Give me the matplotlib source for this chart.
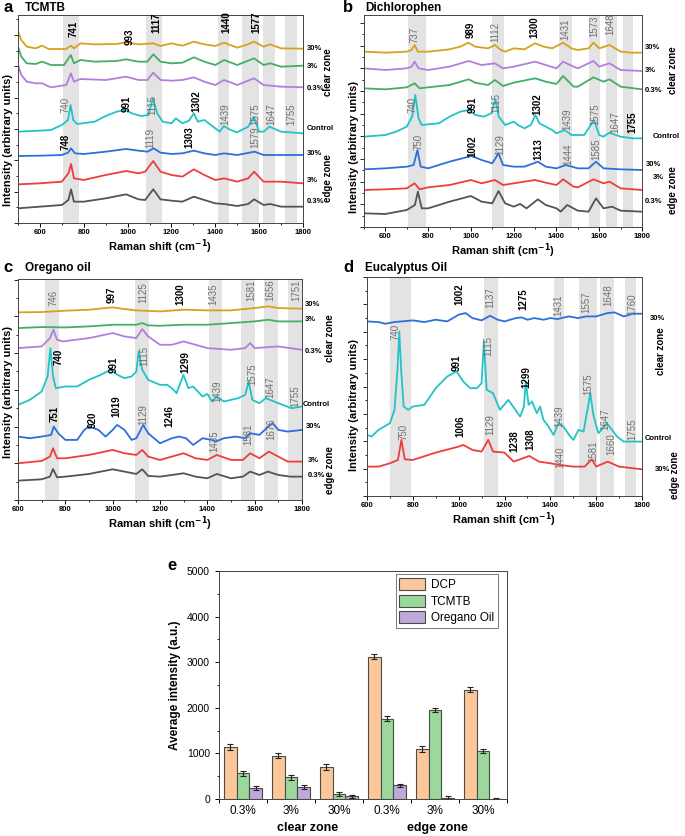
import numpy as np
import matplotlib
matplotlib.use("Agg")
import matplotlib.pyplot as plt
from matplotlib.ticker import MultipleLocator

plt.rcParams['font.family'] = ['Liberation Sans', 'DejaVu Sans']

# ---------------- colours ----------------
GOLD = '#D6A21E'
GREEN = '#43AE66'
PURPLE = '#B27EDD'
CYAN = '#20C4C6'
BLUE = '#2C6FDD'
RED = '#EF3D3D'
GREY = '#545454'
BAND = '#E3E3E3'
DARK = 'black'
LIGHT = '#707070'

# ---------------- panel a: TCMTB (cm-1, intensity a.u.) ----------------
a_clear_30 = [(500, 574), (515, 549), (540, 529), (580, 524), (610, 532), (640, 522), (720, 522),
              (741, 532), (755, 524), (785, 539), (850, 536), (950, 537), (993, 542), (1050, 536),
              (1117, 539), (1150, 531), (1200, 539), (1250, 532), (1302, 544), (1350, 536),
              (1400, 531), (1440, 541), (1500, 526), (1540, 534), (1577, 544), (1620, 529),
              (1650, 536), (1700, 524), (1800, 523)]
a_clear_3 = [(500, 529), (515, 499), (540, 479), (580, 477), (610, 484), (650, 474), (710, 474),
             (741, 504), (755, 479), (785, 489), (850, 484), (950, 486), (993, 491), (1050, 484),
             (1090, 484), (1117, 506), (1150, 484), (1200, 479), (1250, 481), (1302, 497),
             (1350, 484), (1400, 474), (1440, 489), (1500, 474), (1577, 494), (1620, 474),
             (1650, 479), (1700, 469), (1800, 472)]
a_clear_03 = [(500, 474), (515, 444), (540, 424), (580, 419), (610, 419), (650, 407), (720, 414),
              (741, 449), (755, 424), (785, 432), (900, 429), (993, 439), (1050, 429), (1090, 429),
              (1117, 451), (1150, 429), (1200, 427), (1250, 429), (1302, 437), (1350, 424),
              (1400, 414), (1440, 429), (1500, 414), (1577, 434), (1620, 414), (1700, 409),
              (1800, 407)]
a_control = [(500, 274), (600, 277), (650, 279), (700, 294), (728, 309), (740, 354), (752, 309),
             (770, 297), (850, 304), (900, 321), (950, 334), (991, 339), (1020, 329), (1060, 321),
             (1095, 324), (1115, 374), (1135, 329), (1160, 304), (1200, 299), (1220, 314),
             (1250, 299), (1280, 307), (1302, 329), (1320, 304), (1350, 309), (1380, 294),
             (1400, 284), (1420, 274), (1439, 291), (1470, 279), (1500, 272), (1550, 289),
             (1575, 319), (1600, 274), (1620, 274), (1647, 289), (1700, 274), (1800, 269)]
a_edge_30 = [(500, 201), (600, 202), (700, 204), (728, 211), (742, 224), (760, 209), (800, 207),
             (900, 214), (993, 222), (1050, 217), (1090, 214), (1119, 224), (1150, 211),
             (1200, 207), (1250, 209), (1302, 217), (1350, 209), (1400, 204), (1440, 209),
             (1500, 204), (1579, 214), (1620, 204), (1700, 204), (1800, 204)]
a_edge_3 = [(500, 116), (600, 119), (700, 124), (730, 149), (742, 177), (755, 134), (800, 129),
            (900, 144), (993, 156), (1050, 149), (1080, 154), (1117, 186), (1150, 154), (1200, 144),
            (1250, 139), (1302, 161), (1350, 144), (1400, 129), (1440, 134), (1500, 124),
            (1550, 134), (1577, 154), (1620, 124), (1700, 124), (1800, 119)]
a_edge_03 = [(500, 44), (600, 49), (700, 54), (730, 69), (742, 101), (755, 64), (800, 64),
             (900, 74), (993, 86), (1050, 71), (1080, 69), (1117, 101), (1150, 71), (1200, 67),
             (1250, 64), (1302, 79), (1350, 69), (1400, 59), (1440, 57), (1500, 51), (1550, 57),
             (1577, 71), (1620, 54), (1650, 57), (1700, 49), (1800, 49)]
a_bands = [(707, 780), (1082, 1157), (1414, 1464), (1520, 1601), (1619, 1672), (1718, 1771)]
a_peaks = [('741', 752, 559, DARK), ('993', 1011, 534, DARK), ('1117', 1129, 569, DARK),
           ('1440', 1452, 569, DARK), ('1577', 1586, 569, DARK),
           ('740', 717, 329, LIGHT), ('991', 996, 334, DARK), ('1115', 1114, 324, LIGHT),
           ('1302', 1312, 334, DARK), ('1439', 1447, 294, LIGHT), ('1575', 1581, 294, LIGHT),
           ('1647', 1657, 294, LIGHT), ('1755', 1748, 294, LIGHT),
           ('748', 717, 219, DARK), ('1119', 1105, 224, LIGHT), ('1303', 1280, 224, DARK),
           ('1579', 1584, 224, LIGHT)]
a_sides = [('30%', 1.014, 524), ('3%', 1.014, 469), ('0.3%', 1.014, 404), ('Control', 1.014, 284),
           ('30%', 1.014, 209), ('3%', 1.014, 129), ('0.3%', 1.014, 64)]
a_zones = [('clear zone', 1.088, 454), ('edge zone', 1.088, 134)]

# ---------------- panel b: Dichlorophen ----------------
b_clear_30 = [(500, 526), (600, 523), (700, 526), (722, 531), (737, 546), (752, 526), (800, 526),
              (900, 533), (950, 541), (989, 553), (1020, 541), (1080, 536), (1112, 546), (1140, 531),
              (1160, 526), (1200, 536), (1250, 533), (1300, 551), (1340, 541), (1380, 536),
              (1431, 553), (1470, 536), (1500, 531), (1550, 536), (1573, 553), (1600, 536),
              (1648, 546), (1700, 526), (1750, 523), (1800, 523)]
b_clear_3 = [(500, 476), (600, 471), (700, 476), (722, 481), (737, 496), (755, 476), (800, 471),
             (900, 481), (989, 498), (1050, 486), (1112, 491), (1150, 476), (1200, 481), (1300, 496),
             (1350, 486), (1400, 476), (1431, 496), (1480, 481), (1500, 476), (1573, 498),
             (1600, 481), (1648, 491), (1700, 471), (1800, 468)]
b_clear_03 = [(500, 416), (600, 413), (700, 419), (737, 431), (760, 416), (800, 419), (900, 426),
              (989, 443), (1020, 433), (1080, 426), (1112, 441), (1150, 423), (1200, 433),
              (1300, 446), (1350, 436), (1400, 429), (1431, 453), (1480, 421), (1500, 421),
              (1573, 449), (1620, 436), (1648, 443), (1700, 421), (1800, 413)]
b_control = [(500, 271), (600, 276), (650, 286), (700, 301), (725, 331), (740, 396), (755, 326),
             (770, 306), (850, 311), (900, 331), (950, 346), (991, 351), (1020, 336), (1060, 331),
             (1095, 341), (1115, 383), (1130, 331), (1160, 306), (1200, 316), (1220, 306),
             (1250, 296), (1280, 306), (1302, 336), (1320, 311), (1350, 301), (1380, 291),
             (1400, 281), (1439, 291), (1470, 276), (1530, 276), (1575, 321), (1600, 276),
             (1620, 271), (1647, 283), (1700, 271), (1755, 266), (1800, 266)]
b_edge_30 = [(500, 173), (600, 176), (700, 181), (732, 186), (750, 231), (765, 181), (800, 176),
             (900, 196), (1002, 213), (1050, 201), (1100, 191), (1129, 221), (1150, 186),
             (1200, 181), (1250, 181), (1313, 196), (1350, 181), (1400, 176), (1444, 186),
             (1500, 176), (1550, 176), (1585, 196), (1620, 176), (1700, 173), (1800, 171)]
b_edge_3 = [(500, 111), (600, 113), (700, 116), (737, 131), (760, 113), (800, 119), (900, 126),
            (1000, 141), (1050, 131), (1112, 141), (1150, 126), (1200, 131), (1300, 141),
            (1350, 133), (1400, 126), (1431, 143), (1480, 121), (1500, 119), (1573, 143),
            (1620, 131), (1648, 136), (1700, 116), (1800, 111)]
b_edge_03 = [(500, 41), (600, 39), (700, 51), (738, 66), (752, 106), (770, 56), (800, 56),
             (900, 76), (1000, 93), (1050, 76), (1100, 71), (1129, 108), (1160, 71), (1200, 61),
             (1230, 69), (1260, 56), (1313, 83), (1350, 66), (1400, 56), (1420, 46), (1450, 66),
             (1500, 49), (1550, 46), (1585, 86), (1620, 56), (1660, 61), (1700, 49), (1800, 46)]
b_bands = [(704, 790), (1100, 1154), (1414, 1472), (1550, 1604), (1632, 1682), (1713, 1760)]
b_peaks = [('737', 735, 551, LIGHT), ('989', 997, 566, DARK), ('1112', 1114, 556, LIGHT),
           ('1300', 1297, 566, DARK), ('1431', 1440, 561, LIGHT), ('1573', 1576, 571, LIGHT),
           ('1648', 1651, 576, LIGHT),
           ('740', 728, 341, LIGHT), ('991', 1008, 341, DARK), ('1115', 1121, 341, LIGHT),
           ('1302', 1311, 336, DARK), ('1439', 1451, 291, LIGHT), ('1575', 1581, 306, LIGHT),
           ('1647', 1674, 281, LIGHT), ('1755', 1755, 281, DARK),
           ('750', 756, 231, LIGHT), ('1002', 1005, 211, DARK), ('1129', 1137, 216, LIGHT),
           ('1313', 1316, 201, DARK), ('1444', 1456, 186, LIGHT), ('1585', 1588, 201, LIGHT)]
b_sides = [('30%', 1.011, 539), ('3%', 1.011, 469), ('0.3%', 1.011, 411), ('Control', 1.04, 271),
           ('30%', 1.015, 189), ('3%', 1.04, 149), ('0.3%', 1.011, 76)]
b_zones = [('clear zone', 1.11, 471), ('edge zone', 1.11, 111)]

# ---------------- panel c: Oregano oil ----------------
c_clear_30 = [(600, 562), (700, 563), (800, 567), (900, 570), (1000, 577), (1050, 572), (1100, 568),
              (1200, 565), (1300, 570), (1400, 568), (1500, 568), (1600, 575), (1656, 580),
              (1700, 575), (1800, 573)]
c_clear_3 = [(600, 515), (700, 518), (800, 517), (900, 520), (1000, 525), (1100, 525), (1125, 530),
             (1150, 523), (1200, 522), (1300, 525), (1400, 525), (1500, 530), (1600, 535),
             (1656, 540), (1700, 535), (1800, 535)]
c_clear_03 = [(600, 455), (700, 460), (735, 485), (750, 510), (765, 480), (790, 475), (900, 485),
              (1000, 500), (1050, 490), (1100, 485), (1125, 512), (1150, 490), (1200, 465),
              (1250, 465), (1300, 475), (1350, 465), (1400, 455), (1500, 450), (1560, 455),
              (1581, 470), (1600, 455), (1700, 460), (1800, 450)]
c_control = [(600, 285), (650, 300), (700, 325), (725, 370), (737, 455), (748, 370), (760, 335),
             (800, 340), (850, 340), (900, 360), (950, 375), (991, 390), (1020, 375), (1050, 365),
             (1080, 370), (1100, 385), (1110, 445), (1125, 390), (1150, 360), (1200, 345),
             (1230, 345), (1250, 335), (1270, 320), (1299, 375), (1320, 335), (1340, 340),
             (1380, 310), (1400, 318), (1420, 295), (1439, 310), (1470, 295), (1530, 305),
             (1560, 315), (1575, 355), (1590, 300), (1620, 290), (1647, 305), (1700, 290),
             (1755, 275), (1800, 280)]
c_edge_30 = [(600, 190), (650, 185), (700, 190), (740, 195), (751, 220), (770, 200), (800, 180),
             (850, 180), (880, 210), (900, 220), (940, 210), (970, 190), (1000, 210), (1019, 225),
             (1050, 210), (1080, 180), (1100, 185), (1129, 225), (1150, 200), (1200, 170),
             (1250, 185), (1280, 190), (1310, 185), (1340, 165), (1380, 185), (1420, 180),
             (1435, 175), (1470, 185), (1520, 190), (1560, 185), (1581, 200), (1620, 195),
             (1650, 215), (1676, 230), (1700, 210), (1740, 205), (1800, 210)]
c_edge_3 = [(600, 110), (700, 117), (735, 130), (748, 155), (765, 125), (800, 125), (900, 135),
            (1000, 150), (1050, 140), (1100, 135), (1125, 150), (1150, 130), (1200, 120),
            (1250, 130), (1300, 140), (1350, 125), (1400, 120), (1440, 135), (1500, 120),
            (1550, 120), (1581, 140), (1620, 125), (1660, 145), (1700, 130), (1740, 115),
            (1800, 115)]
c_edge_03 = [(600, 58), (700, 62), (735, 70), (748, 93), (765, 68), (800, 70), (900, 78),
             (1000, 92), (1050, 85), (1100, 78), (1125, 92), (1150, 72), (1200, 70), (1250, 75),
             (1300, 80), (1350, 70), (1400, 65), (1440, 78), (1500, 65), (1550, 70), (1581, 85),
             (1620, 75), (1656, 85), (1700, 75), (1750, 70), (1800, 70)]
c_bands = [(713, 772), (1094, 1153), (1407, 1463), (1541, 1601), (1639, 1700), (1742, 1799)]
c_peaks = [('746', 748, 580, LIGHT), ('997', 995, 590, DARK), ('1125', 1129, 590, LIGHT),
           ('1300', 1284, 585, DARK), ('1435', 1425, 585, LIGHT), ('1581', 1587, 595, LIGHT),
           ('1656', 1665, 595, LIGHT), ('1751', 1778, 595, LIGHT),
           ('740', 772, 405, DARK), ('991', 1005, 380, DARK), ('1115', 1132, 400, LIGHT),
           ('1299', 1309, 380, DARK), ('1439', 1442, 295, LIGHT), ('1575', 1592, 345, LIGHT),
           ('1647', 1665, 305, LIGHT), ('1755', 1771, 280, LIGHT),
           ('751', 755, 235, DARK), ('920', 917, 215, DARK), ('1019', 1016, 250, DARK),
           ('1129', 1129, 225, LIGHT), ('1246', 1239, 220, DARK), ('1435', 1429, 145, LIGHT),
           ('1581', 1573, 165, LIGHT), ('1676', 1672, 180, LIGHT)]
c_sides = [('30%', 1.01, 585), ('3%', 1.01, 540), ('0.3%', 1.01, 445), ('Control', 1.004, 285),
           ('30%', 1.015, 220), ('3%', 1.02, 118), ('0.3%', 1.02, 72)]
c_zones = [('clear zone', 1.10, 485), ('edge zone', 1.10, 90)]

# ---------------- panel d: Eucalyptus Oil ----------------
d_clear_30 = [(600, 523), (650, 521), (680, 516), (720, 521), (800, 526), (850, 521), (900, 528),
              (950, 523), (1000, 543), (1030, 548), (1060, 533), (1100, 526), (1137, 540),
              (1170, 528), (1200, 523), (1250, 533), (1275, 535), (1300, 528), (1330, 533),
              (1370, 528), (1400, 533), (1431, 530), (1480, 538), (1520, 533), (1557, 538),
              (1600, 538), (1650, 548), (1680, 550), (1720, 538), (1760, 546), (1800, 546)]
d_control = [(600, 183), (620, 178), (650, 198), (700, 218), (720, 258), (733, 378), (741, 493),
             (749, 378), (760, 268), (780, 258), (800, 268), (850, 273), (900, 323), (950, 358),
             (991, 373), (1020, 343), (1050, 323), (1080, 323), (1100, 338), (1110, 463),
             (1122, 318), (1150, 308), (1180, 258), (1217, 288), (1268, 238), (1285, 268),
             (1293, 343), (1305, 273), (1320, 283), (1341, 248), (1355, 268), (1370, 228),
             (1392, 208), (1414, 183), (1436, 218), (1457, 208), (1487, 178), (1501, 168),
             (1523, 198), (1545, 193), (1567, 278), (1574, 308), (1589, 238), (1610, 188),
             (1647, 218), (1691, 178), (1720, 163), (1800, 163)]
d_edge_30 = [(600, 88), (650, 88), (700, 98), (735, 108), (750, 168), (765, 110), (800, 108),
             (900, 130), (1000, 148), (1020, 153), (1060, 138), (1100, 133), (1129, 168),
             (1150, 133), (1200, 130), (1240, 103), (1280, 113), (1308, 120), (1350, 103),
             (1400, 98), (1440, 93), (1500, 88), (1550, 88), (1581, 110), (1600, 88), (1650, 103),
             (1700, 88), (1800, 80)]
d_bands = [(699, 791), (1110, 1173), (1414, 1460), (1527, 1603), (1615, 1676), (1727, 1774)]
d_peaks = [('1002', 1001, 573, DARK), ('1137', 1140, 563, LIGHT), ('1275', 1282, 558, DARK),
           ('1431', 1436, 538, LIGHT), ('1557', 1557, 548, LIGHT), ('1648', 1654, 568, LIGHT),
           ('1760', 1759, 543, LIGHT),
           ('740', 725, 468, LIGHT), ('991', 991, 373, DARK), ('1115', 1129, 418, LIGHT),
           ('1299', 1294, 323, DARK), ('1439', 1438, 208, LIGHT), ('1575', 1567, 303, LIGHT),
           ('1647', 1640, 198, LIGHT), ('1755', 1756, 168, LIGHT),
           ('750', 760, 168, LIGHT), ('1006', 1008, 178, DARK), ('1129', 1137, 183, LIGHT),
           ('1238', 1242, 133, DARK), ('1308', 1312, 138, DARK), ('1440', 1443, 83, LIGHT),
           ('1581', 1589, 103, LIGHT), ('1660', 1664, 123, LIGHT)]
d_sides = [('30%', 1.03, 533), ('Control', 1.01, 173), ('30%', 1.047, 78)]
d_zones = [('clear zone', 1.07, 433), ('edge zone', 1.12, 63)]

# ---------------- panel e: average intensity ----------------
e_groups = ['0.3%', '3%', '30%', '0.3%', '3%', '30%']
e_dcp = [1150, 950, 695, 3120, 1095, 2395]
e_dcp_err = [65, 60, 65, 55, 62, 58]
e_tcmtb = [565, 475, 112, 1765, 1945, 1050]
e_tcmtb_err = [55, 50, 45, 47, 40, 45]
e_oregano = [248, 262, 58, 300, 25, 8]
e_oregano_err = [45, 38, 35, 35, 30, 12]


def rect(l, t, r, b):
    # pixel box -> figure fraction
    return [l / 685, 1 - b / 836, (r - l) / 685, (b - t) / 836]


def draw_spectra(ax, curves, colors, bands, peaks, sides, zones, xlim, ylim, ystep):
    for lo, hi in bands:
        ax.axvspan(lo, hi, color=BAND, lw=0, zorder=0)
    for pts, col in zip(curves, colors):
        xs, ys = zip(*pts)
        ax.plot(xs, ys, color=col, lw=1.3, zorder=2)
    for txt, x, y, col in peaks:
        ax.text(x, y, txt, rotation=90, ha='center', va='bottom', fontsize=7, color=col,
                fontweight='bold' if col == DARK else 'normal', zorder=3)
    tr = ax.get_yaxis_transform()
    for txt, xf, y in sides:
        ax.text(xf, y, txt, transform=tr, ha='left', va='center', fontsize=5.5,
                fontweight='bold', clip_on=False)
    for txt, xf, y in zones:
        ax.text(xf, y, txt, transform=tr, ha='center', va='center', rotation=90,
                fontsize=7, fontweight='bold', clip_on=False)
    ax.set_xlim(*xlim)
    ax.set_ylim(*ylim)
    ax.xaxis.set_major_locator(MultipleLocator(200))
    ax.xaxis.set_minor_locator(MultipleLocator(100))
    ax.yaxis.set_major_locator(MultipleLocator(ystep * 2))
    ax.yaxis.set_minor_locator(MultipleLocator(ystep))
    ax.tick_params(axis='x', which='major', labelsize=5.5, length=3, width=0.7, pad=1.5)
    ax.tick_params(axis='x', which='minor', length=1.5, width=0.6)
    ax.tick_params(axis='y', which='both', labelleft=False, width=0.6)
    ax.tick_params(axis='y', which='major', length=3)
    ax.tick_params(axis='y', which='minor', length=1.5)
    for lab in ax.get_xticklabels():
        lab.set_fontweight('bold')
    for sp in ax.spines.values():
        sp.set_linewidth(0.7)
        sp.set_color('#444444')
    ax.set_xlabel('Raman shift (cm$^{\\mathbf{-1}}$)', fontsize=8, fontweight='bold', labelpad=1)


fig = plt.figure(figsize=(6.85, 8.36), dpi=100)

six = [GOLD, GREEN, PURPLE, CYAN, BLUE, RED, GREY]

ax_a = fig.add_axes(rect(18, 15, 303, 223))
draw_spectra(ax_a, [a_clear_30, a_clear_3, a_clear_03, a_control, a_edge_30, a_edge_3, a_edge_03],
             six, a_bands, a_peaks, a_sides, a_zones, (500, 1800), (0, 624), 47)

ax_b = fig.add_axes(rect(364, 15, 642, 227))
draw_spectra(ax_b, [b_clear_30, b_clear_3, b_clear_03, b_control, b_edge_30, b_edge_3, b_edge_03],
             [GOLD, PURPLE, GREEN, CYAN, BLUE, RED, GREY], b_bands, b_peaks, b_sides, b_zones,
             (500, 1800), (0, 636), 34)

ax_c = fig.add_axes(rect(18, 279, 302, 500))
draw_spectra(ax_c, [c_clear_30, c_clear_3, c_clear_03, c_control, c_edge_30, c_edge_3, c_edge_03],
             six, c_bands, c_peaks, c_sides, c_zones, (600, 1800), (0, 662), 55)

ax_d = fig.add_axes(rect(367, 277, 642, 496))
draw_spectra(ax_d, [d_clear_30, d_control, d_edge_30], [BLUE, CYAN, RED], d_bands, d_peaks,
             d_sides, d_zones, (600, 1800), (0, 656), 41)

# panel letters, titles, y labels
for letter, title, px, py in [('a', 'TCMTB', 3, 8), ('b', 'Dichlorophen', 343, 8),
                              ('c', 'Oregano oil', 3, 268), ('d', 'Eucalyptus Oil', 343, 268)]:
    fig.text(px / 685, 1 - py / 836, letter, fontsize=12, fontweight='bold', va='center')
    fig.text((px + 22) / 685, 1 - py / 836, title, fontsize=8.5, fontweight='bold', va='center')

for px, py in [(8, 140), (354, 147), (8, 392), (354, 405)]:
    fig.text(px / 685, 1 - py / 836, 'Intensity (arbitrary units)', rotation=90, fontsize=8,
             fontweight='bold', ha='center', va='center')

# ---------------- panel e ----------------
ax_e = fig.add_axes(rect(219, 571, 507, 799))
xc = np.arange(len(e_groups)) + 0.5
w = 0.27
series = [(e_dcp, e_dcp_err, '#FCC79A', 'DCP'),
          (e_tcmtb, e_tcmtb_err, '#9BD89C', 'TCMTB'),
          (e_oregano, e_oregano_err, '#BDAAD8', 'Oregano Oil')]
for k, (vals, errs, col, name) in enumerate(series):
    ax_e.bar(xc + (k - 1) * w, vals, width=w, color=col, edgecolor='#4a4a4a', linewidth=0.8,
             label=name, yerr=errs, capsize=2,
             error_kw=dict(elinewidth=0.8, capthick=0.8, ecolor='#222222'))
ax_e.set_xlim(0, 6)
ax_e.set_ylim(0, 5000)
ax_e.yaxis.set_major_locator(MultipleLocator(1000))
ax_e.yaxis.set_minor_locator(MultipleLocator(500))
ax_e.set_xticks(xc)
ax_e.set_xticklabels(e_groups, fontsize=8.5)
ax_e.set_xticks(np.arange(0, 7), minor=True)
ax_e.tick_params(axis='x', which='major', length=0, pad=4)
ax_e.tick_params(axis='x', which='minor', length=3, width=0.7)
ax_e.tick_params(axis='y', which='major', labelsize=7.5, length=3, width=0.7)
ax_e.tick_params(axis='y', which='minor', length=1.8, width=0.6)
for sp in ax_e.spines.values():
    sp.set_linewidth(0.7)
    sp.set_color('#444444')
ax_e.set_ylabel('Average intensity (a.u.)', fontsize=8.5, fontweight='bold', labelpad=4)
ax_e.text(1.85, -0.127, 'clear zone', transform=ax_e.get_xaxis_transform(), ha='center',
          va='center', fontsize=9, fontweight='bold')
ax_e.text(4.56, -0.127, 'edge zone', transform=ax_e.get_xaxis_transform(), ha='center',
          va='center', fontsize=9, fontweight='bold')
leg = ax_e.legend(loc='upper right', bbox_to_anchor=(0.968, 0.985), fontsize=8.5,
                  fancybox=False, edgecolor='#555555', borderaxespad=0, handlelength=2.2,
                  handleheight=1.2, labelspacing=0.3, borderpad=0.3, handletextpad=0.5)
leg.get_frame().set_linewidth(0.7)
fig.text(167 / 685, 1 - 565 / 836, 'e', fontsize=12, fontweight='bold', va='center')

fig.savefig('out.png', dpi=100)
